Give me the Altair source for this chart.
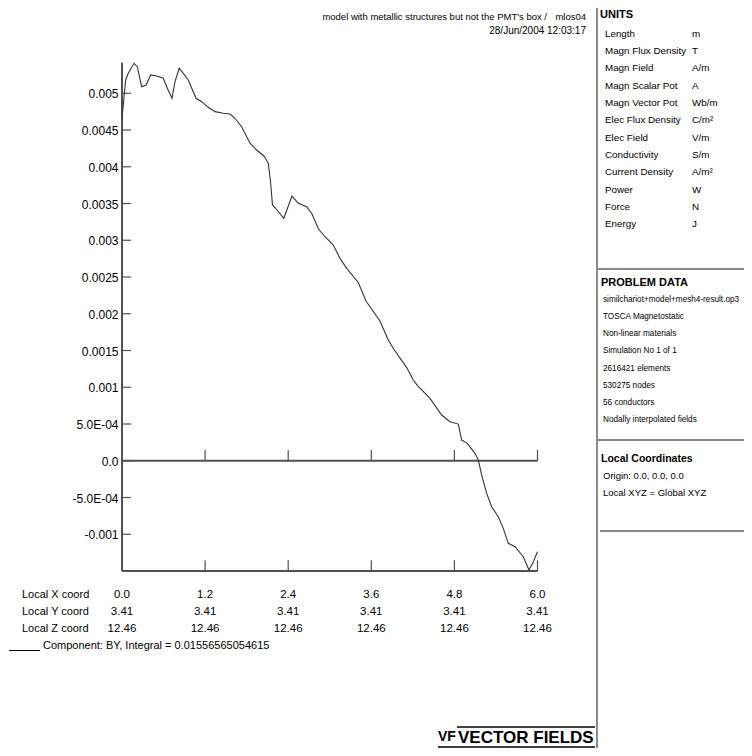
import altair as alt
import pandas as pd

# ---------------- data ----------------
X_VALS = [0.0, 0.053, 0.091, 0.173, 0.221, 0.284, 0.347, 0.414, 0.501, 0.596,
          0.654, 0.722, 0.765, 0.827, 0.957, 1.069, 1.151, 1.246, 1.343, 1.463,
          1.560, 1.632, 1.728, 1.848, 1.945, 2.050, 2.113, 2.147, 2.173, 2.238,
          2.336, 2.455, 2.546, 2.667, 2.744, 2.837, 2.931, 3.051, 3.148, 3.245,
          3.412, 3.523, 3.725, 3.845, 3.928, 4.111, 4.206, 4.267, 4.448, 4.616,
          4.736, 4.856, 4.905, 4.986, 5.097, 5.145, 5.194, 5.266, 5.338, 5.434,
          5.506, 5.578, 5.675, 5.795, 5.877, 5.930, 6.0]
BY_VALS = [0.004660, 0.005181, 0.005272, 0.005408, 0.005362, 0.005090, 0.005113,
           0.005249, 0.005235, 0.005204, 0.005068, 0.004932, 0.005158, 0.005340,
           0.005181, 0.004932, 0.004886, 0.004809, 0.004750, 0.004728, 0.004718,
           0.004660, 0.004545, 0.004320, 0.004228, 0.004147, 0.004047, 0.003775,
           0.003480, 0.003412, 0.003299, 0.003602, 0.003503, 0.003457, 0.003357,
           0.003153, 0.003048, 0.002935, 0.002754, 0.002618, 0.002425, 0.002173,
           0.001901, 0.001643, 0.001513, 0.001268, 0.001098, 0.001023, 0.000849,
           0.000622, 0.000531, 0.000499, 0.000282, 0.000237, 0.000101, 0.000010,
           -0.000195, -0.000444, -0.000626, -0.000762, -0.000920, -0.001124,
           -0.001170, -0.001306, -0.001487, -0.001396, -0.001238]

Y_TICKS = [0.005, 0.0045, 0.004, 0.0035, 0.003, 0.0025, 0.002, 0.0015, 0.001,
           0.0005, 0.0, -0.0005, -0.001]
Y_TICK_LABELS = ["0.005", "0.0045", "0.004", "0.0035", "0.003", "0.0025", "0.002",
                 "0.0015", "0.001", "5.0E-04", "0.0", "-5.0E-04", "-0.001"]
X_TICKS = [0.0, 1.2, 2.4, 3.6, 4.8, 6.0]
X_LABELS = ["0.0", "1.2", "2.4", "3.6", "4.8", "6.0"]
Y_COORDS = ["3.41", "3.41", "3.41", "3.41", "3.41", "3.41"]
Z_COORDS = ["12.46", "12.46", "12.46", "12.46", "12.46", "12.46"]
ROW_NAMES = ["Local X coord", "Local Y coord", "Local Z coord"]
LEGEND_TEXT = "Component: BY, Integral = 0.01556565054615"

HEADER_1 = "model with metallic structures but not the PMT's box /"
HEADER_ID = "mlos04"
HEADER_2 = "28/Jun/2004 12:03:17"

UNIT_NAMES = ["Length", "Magn Flux Density", "Magn Field", "Magn Scalar Pot",
              "Magn Vector Pot", "Elec Flux Density", "Elec Field", "Conductivity",
              "Current Density", "Power", "Force", "Energy"]
UNIT_SYMBOLS = ["m", "T", "A/m", "A", "Wb/m", "C/m²", "V/m", "S/m", "A/m²", "W", "N", "J"]
PROBLEM_LINES = ["similchariot+model+mesh4-result.op3", "TOSCA Magnetostatic",
                 "Non-linear materials", "Simulation No 1 of 1", "2616421 elements",
                 "530275 nodes", "56 conductors", "Nodally interpolated fields"]
LOCAL_LINES = ["Origin: 0.0, 0.0, 0.0", "Local XYZ = Global XYZ"]

# ---------------- layout ----------------
OX, OY = 8, 8            # page offset of the chart origin
W, H = 736, 740
Y_MIN, Y_MAX = -0.0015, 0.005416
FONT = "Liberation Sans, Arial, sans-serif"
INK = "#000000"
AX = "#505050"

XS = alt.Scale(domain=[0, 6], range=[122 - OX, 537.5 - OX], nice=False, zero=False)
YS = alt.Scale(domain=[Y_MIN, Y_MAX], range=[571 - OY, 62.7 - OY], nice=False, zero=False)
TICK_DY = 0.000146       # tick length (~10.7 px) in data units
TICK_DX = 0.13           # y tick length (~9 px) in data units


def X(f):
    return alt.X(f, scale=XS, axis=None)


def Y(f):
    return alt.Y(f, scale=YS, axis=None)


def pix_text(rows, size, weight="normal", align="left"):
    df = pd.DataFrame(rows, columns=["t", "px", "py"])
    df["px"] = df["px"] - OX
    df["py"] = df["py"] - OY
    return alt.Chart(df).mark_text(
        font=FONT, fontSize=size, fontWeight=weight, align=align,
        baseline="middle", color=INK
    ).encode(
        x=alt.X("px:Q", scale=None, axis=None),
        y=alt.Y("py:Q", scale=None, axis=None),
        text="t:N",
    )


def pix_rules(rows, color, width):
    df = pd.DataFrame(rows, columns=["x1", "y1", "x2", "y2"])
    for c in ["x1", "x2"]:
        df[c] = df[c] - OX
    for c in ["y1", "y2"]:
        df[c] = df[c] - OY
    return alt.Chart(df).mark_rule(color=color, strokeWidth=width).encode(
        x=alt.X("x1:Q", scale=None, axis=None), x2="x2:Q",
        y=alt.Y("y1:Q", scale=None, axis=None), y2="y2:Q",
    )


curve_df = pd.DataFrame({"x": X_VALS, "by": BY_VALS})
curve = alt.Chart(curve_df).mark_line(color="#333333", strokeWidth=1.1).encode(
    x=X("x:Q"), y=Y("by:Q"), order="x:Q"
)

# axes lines
frame_df = pd.DataFrame({
    "x": [0.0, 0.0, 0.0], "x2": [0.0, 6.0, 6.0],
    "y": [Y_MIN, Y_MIN, 0.0], "y2": [Y_MAX, Y_MIN, 0.0],
})
frame = alt.Chart(frame_df).mark_rule(color=AX, strokeWidth=2).encode(
    x=X("x:Q"), x2="x2:Q", y=Y("y:Q"), y2="y2:Q"
)

# x ticks on the bottom axis and on the zero line
xt_df = pd.DataFrame({"x": X_TICKS[1:] * 2,
                      "y": [Y_MIN] * 5 + [0.0] * 5})
xticks = alt.Chart(xt_df).mark_rule(color=AX, strokeWidth=1.2).transform_calculate(
    y2=f"datum.y + {TICK_DY}"
).encode(x=X("x:Q"), y=Y("y:Q"), y2="y2:Q")

# y ticks
yt_df = pd.DataFrame({"v": Y_TICKS, "lab": Y_TICK_LABELS})
yticks = alt.Chart(yt_df).mark_rule(color=AX, strokeWidth=1.2).transform_calculate(
    x0="0", x2=f"{TICK_DX}"
).encode(x=X("x0:Q"), x2="x2:Q", y=Y("v:Q"))
ylabels = alt.Chart(yt_df).mark_text(
    font=FONT, fontSize=12, align="right", baseline="middle", color=INK, dy=1
).encode(x=alt.value(118.5 - OX), y=Y("v:Q"), text="lab:N")

# coordinate table under the plot
ROW_Y = [595, 612, 629]
coord_rows = []
for vals, ry in zip([X_LABELS, Y_COORDS, Z_COORDS], ROW_Y):
    for xv, s in zip(X_TICKS, vals):
        coord_rows.append({"x": xv, "t": s, "py": ry - OY})
coord_df = pd.DataFrame(coord_rows)
coord_text = alt.Chart(coord_df).mark_text(
    font=FONT, fontSize=11.5, align="center", baseline="middle", color=INK
).encode(x=X("x:Q"), y=alt.Y("py:Q", scale=None, axis=None), text="t:N")

row_names = pix_text([(n, 22, ry) for n, ry in zip(ROW_NAMES, ROW_Y)], 11)
legend = pix_text([(LEGEND_TEXT, 43, 646)], 11)
legend_line = pix_rules([(9, 650.5, 40, 650.5)], "#000000", 1)

header = alt.layer(
    pix_text([(HEADER_1, 547, 17)], 9.5, align="right"),
    pix_text([(HEADER_ID, 586, 17)], 9.5, align="right"),
    pix_text([(HEADER_2, 586, 31)], 10, align="right"),
)

# side panel
panel_lines = pix_rules([
    (597, 5, 597, 760),     # left border
    (597, 5, 760, 5),       # top border
    (597, 269, 760, 269),
    (597, 440, 760, 440),
    (600, 531, 760, 531),
], "#8a8a8a", 2)

units_head = pix_text([("UNITS", 600, 14.5)], 11, weight="bold")
unit_names = pix_text([(n, 605, 33.8 + 17.3 * i) for i, n in enumerate(UNIT_NAMES)], 9.8)
unit_syms = pix_text([(s, 692, 33.8 + 17.3 * i) for i, s in enumerate(UNIT_SYMBOLS)], 9.8)
prob_head = pix_text([("PROBLEM DATA", 601, 283.3)], 11, weight="bold")
prob_lines = pix_text([(s, 603, 299.7 + 17.2 * i) for i, s in enumerate(PROBLEM_LINES)], 8.2)
loc_head = pix_text([("Local Coordinates", 601, 459)], 10.5, weight="bold")
loc_lines = pix_text([(s, 603, 476 + 16.5 * i) for i, s in enumerate(LOCAL_LINES)], 9.5)

# logo
logo_lines = pix_rules([(457, 727, 595, 727), (438, 747, 595, 747)], "#000000", 1.5)
logo_vf = pix_text([("VF", 438, 736.5)], 14, weight="bold")
logo_txt = pix_text([("VECTOR FIELDS", 458, 737.5)], 17, weight="bold")

chart = alt.layer(
    frame, xticks, yticks, ylabels, curve, coord_text, row_names, legend, legend_line,
    header, panel_lines, units_head, unit_names, unit_syms, prob_head, prob_lines,
    loc_head, loc_lines, logo_lines, logo_vf, logo_txt,
).properties(
    width=W, height=H, padding=0,
    autosize=alt.AutoSizeParams(type="none"),
    background="white",
).configure_view(stroke=None)

chart.save("out.html", embed_options={"renderer": "svg", "actions": False})
